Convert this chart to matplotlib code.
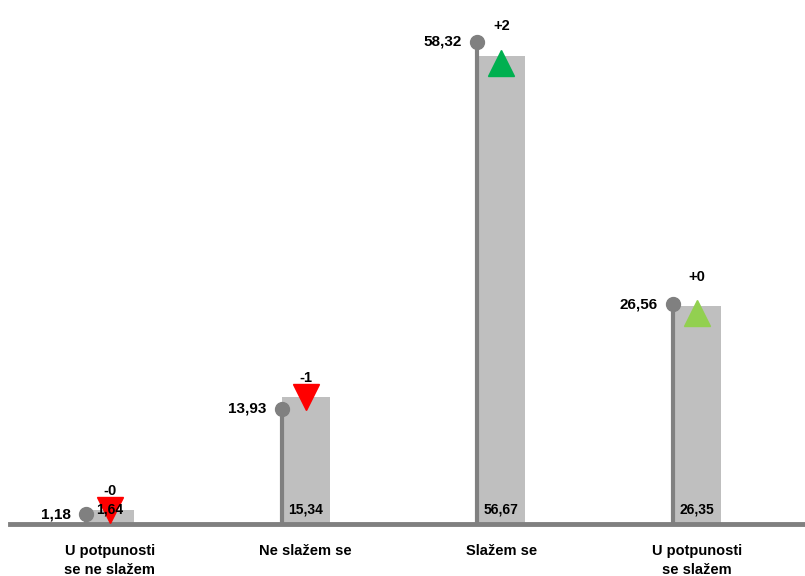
import numpy as np
import matplotlib
matplotlib.use("Agg")
import matplotlib.pyplot as plt
from matplotlib.transforms import ScaledTranslation

plt.rcParams['font.family'] = ['Liberation Sans', 'DejaVu Sans']

categories = ["U potpunosti\nse ne slažem", "Ne slažem se", "Slažem se", "U potpunosti\nse slažem"]
bar_values = [1.64, 15.34, 56.67, 26.35]      # grey bars
dot_values = [1.18, 13.93, 58.32, 26.56]      # lollipop
change_labels = ["-0", "-1", "+2", "+0"]
change_dir = ["down", "down", "up", "up"]
change_colors = ["#FF0000", "#FF0000", "#00B050", "#92D050"]

fig = plt.figure(figsize=(8.05, 5.76), dpi=100)
ax = fig.add_axes([0.0124, 0.0903, 0.9876, 0.9097])

x = np.arange(len(categories))
bw = 0.245

ax.bar(x, bar_values, width=bw, color="#BFBFBF", zorder=1)

# lollipops at left edge of each bar
xl = x - bw / 2
ax.vlines(xl, 0, dot_values, color="#808080", linewidth=3, zorder=2)
ax.plot(xl, dot_values, "o", color="#808080", markersize=10, zorder=3)

for i in range(len(categories)):
    # value of the lollipop
    ax.annotate(f"{dot_values[i]:.2f}".replace(".", ","), (xl[i], dot_values[i]),
                xytext=(-11, 0), textcoords="offset points", ha="right", va="center",
                fontsize=11, fontweight="bold", zorder=5)
    # value of the bar
    ax.annotate(f"{bar_values[i]:.2f}".replace(".", ","), (x[i], 0),
                xytext=(0, 10.5), textcoords="offset points", ha="center", va="center",
                fontsize=10, fontweight="bold", zorder=5)
    # change marker
    if change_dir[i] == "down":
        ax.plot(x[i], bar_values[i], "v", color=change_colors[i], markersize=19, zorder=4)
        off = 14
    else:
        shift = ax.transData + ScaledTranslation(0, -5 / 72, fig.dpi_scale_trans)
        ax.plot(x[i], bar_values[i], "^", color=change_colors[i], markersize=19, zorder=4,
                transform=shift)
        off = 21
    ax.annotate(change_labels[i], (x[i], bar_values[i]), xytext=(0, off),
                textcoords="offset points", ha="center", va="center",
                fontsize=10.5, fontweight="bold", zorder=5)
    # category label
    ax.text(x[i], -2.4, categories[i], ha="center", va="top", fontsize=10.5,
            fontweight="bold", linespacing=1.45)

ax.axhline(0, color="#808080", linewidth=3.5, zorder=2, clip_on=False)

ax.set_xlim(-0.51, 3.55)
ax.set_ylim(0, 63.4)
ax.axis("off")

fig.savefig("out.png", dpi=100)
